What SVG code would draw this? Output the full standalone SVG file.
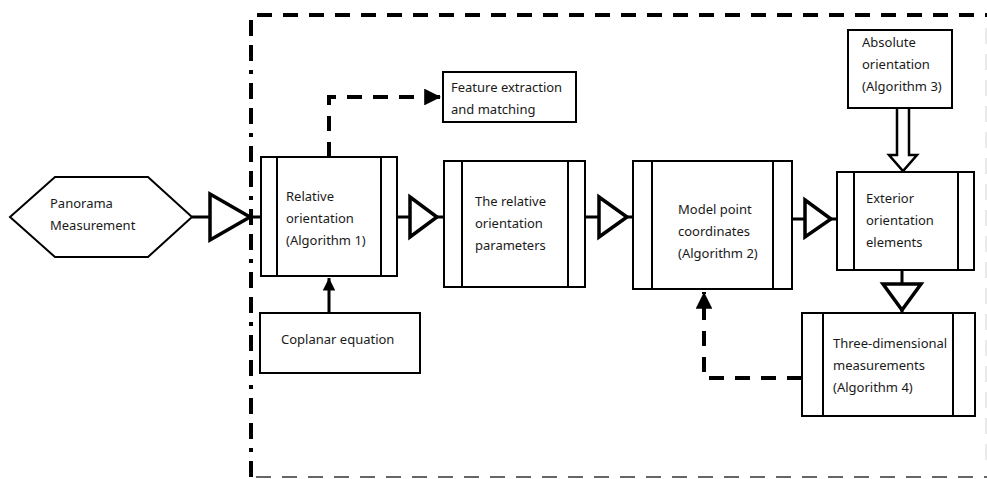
<svg xmlns="http://www.w3.org/2000/svg" width="987" height="479" viewBox="0 0 987 479">
  <style>
    .box { fill: #fff; stroke: #000; stroke-width: 2; }
    .bar { stroke: #000; stroke-width: 2; fill: none; }
    .lbl { font-family: "Noto Sans", "Open Sans", sans-serif; font-size: 13px; fill: #1a1a1a; }
    .wire { stroke: #000; stroke-width: 3; fill: none; }
    .dash { stroke: #000; stroke-width: 4; fill: none; stroke-dasharray: 15 11; }
    .tri { fill: #fff; stroke: #000; stroke-width: 3.5; stroke-linejoin: miter; }
  </style>
  <defs>
    <marker id="head" viewBox="0 0 10 10" refX="10" refY="5" markerWidth="4.2" markerHeight="4.2" markerUnits="strokeWidth" orient="auto">
      <path d="M0,0 L10,5 L0,10 Z" fill="#000"/>
    </marker>
  </defs>

  <rect width="987" height="479" fill="#fff"/>

  <!-- system boundary -->
  <g id="boundary">
    <path d="M257,15 H987" class="dash"/>
    <path d="M251,20 V479" stroke="#000" stroke-width="4" fill="none" stroke-dasharray="16 9 16 9 4 9"/>
    <path d="M256,477 H987" stroke="#666" stroke-width="2" fill="none" stroke-dasharray="15 11"/>
    <path d="M986,28 V470" stroke="#e4e4e4" stroke-width="1.5" fill="none" stroke-dasharray="16 10"/>
  </g>

  <!-- connectors -->
  <g id="connectors">
    <!-- Panorama -> Relative orientation -->
    <path d="M192,217 H210 M248,217 H261" class="wire"/>
    <path d="M210,194 L250,217 L210,240 Z" class="tri"/>
    <!-- Relative orientation -> relative orientation parameters -->
    <path d="M397,217 H410 M435,217 H444" class="wire"/>
    <path d="M410,197 L437,217 L410,237 Z" class="tri"/>
    <!-- parameters -> model point coordinates -->
    <path d="M585,217 H599 M625,217 H633" class="wire"/>
    <path d="M599,197 L627,217 L599,237 Z" class="tri"/>
    <!-- model point coordinates -> exterior orientation -->
    <path d="M792,219 H805 M829,219 H837" class="wire"/>
    <path d="M805,200 L831,219 L805,237 Z" class="tri"/>
    <!-- exterior orientation -> 3D measurements -->
    <path d="M902,270 V284 M902,308 V313" class="wire"/>
    <path d="M883,284 L921,284 L902,310 Z" class="tri"/>
    <!-- absolute orientation -> exterior orientation (hollow arrow) -->
    <path d="M897,108 V155 H889 L903,171 L917,155 H909 V108" fill="#fff" stroke="#000" stroke-width="2.5" stroke-linejoin="miter"/>
    <!-- coplanar equation -> relative orientation -->
    <path d="M329,313 V278" class="wire" marker-end="url(#head)"/>
    <!-- relative orientation -> feature extraction (dashed) -->
    <path d="M329,157 V97 H441" class="dash" stroke-dasharray="15 10" marker-end="url(#head)"/>
    <!-- 3D measurements -> model point coordinates (dashed feedback) -->
    <path d="M802,378 H704 V292" class="dash" stroke-dasharray="15 10" marker-end="url(#head)"/>
  </g>

  <!-- nodes -->
  <g id="panorama">
    <path d="M10,217 L55,177 L148,177 L192,217 L148,257 L55,257 Z" class="box"/>
    <text class="lbl" font-size="15" x="50" y="208">Panorama</text>
    <text class="lbl" font-size="15" x="50" y="230">Measurement</text>
  </g>

  <g id="relative-orientation">
    <rect x="261" y="157" width="136" height="119" class="box"/>
    <path d="M277,157 V276 M381,157 V276" class="bar"/>
    <text class="lbl" x="286" y="201">Relative</text>
    <text class="lbl" x="286" y="223">orientation</text>
    <text class="lbl" x="286" y="245">(Algorithm 1)</text>
  </g>

  <g id="feature-extraction">
    <rect x="443" y="72" width="133" height="50" class="box"/>
    <text class="lbl" x="451" y="92">Feature extraction</text>
    <text class="lbl" x="451" y="114">and matching</text>
  </g>

  <g id="coplanar-equation">
    <rect x="260" y="313" width="160" height="60" class="box"/>
    <text class="lbl" x="281" y="344">Coplanar equation</text>
  </g>

  <g id="relative-orientation-parameters">
    <rect x="444" y="161" width="141" height="126" class="box"/>
    <path d="M462,161 V287 M568,161 V287" class="bar"/>
    <text class="lbl" x="475" y="206">The relative</text>
    <text class="lbl" x="475" y="228">orientation</text>
    <text class="lbl" x="475" y="250">parameters</text>
  </g>

  <g id="model-point-coordinates">
    <rect x="633" y="161" width="159" height="128" class="box"/>
    <path d="M652,161 V289 M773,161 V289" class="bar"/>
    <text class="lbl" x="678" y="214">Model point</text>
    <text class="lbl" x="678" y="236">coordinates</text>
    <text class="lbl" x="678" y="258">(Algorithm 2)</text>
  </g>

  <g id="absolute-orientation">
    <rect x="848" y="30" width="104" height="78" class="box"/>
    <text class="lbl" x="862" y="47">Absolute</text>
    <text class="lbl" x="862" y="69">orientation</text>
    <text class="lbl" x="862" y="91">(Algorithm 3)</text>
  </g>

  <g id="exterior-orientation">
    <rect x="837" y="172" width="137" height="98" class="box"/>
    <path d="M854,172 V270 M958,172 V270" class="bar"/>
    <text class="lbl" x="866" y="203">Exterior</text>
    <text class="lbl" x="866" y="225">orientation</text>
    <text class="lbl" x="866" y="247">elements</text>
  </g>

  <g id="three-dimensional-measurements">
    <rect x="802" y="313" width="173" height="103" class="box"/>
    <path d="M823,313 V416 M953,313 V416" class="bar"/>
    <text class="lbl" x="833" y="348">Three-dimensional</text>
    <text class="lbl" x="833" y="370">measurements</text>
    <text class="lbl" x="833" y="392">(Algorithm 4)</text>
  </g>
</svg>
